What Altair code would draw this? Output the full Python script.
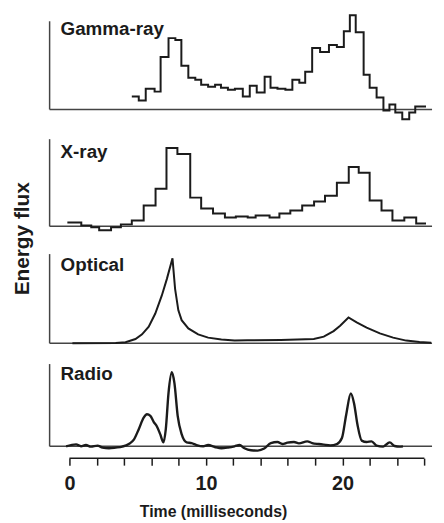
import altair as alt
import pandas as pd

# ---------------- data ----------------
x_min, x_max = -1.45, 26.56
tick_values = [0, 2, 4, 6, 8, 10, 12, 14, 16, 18, 20, 22, 24, 26]
ruler_start, ruler_end = 0, 26

panel_names = ["Gamma-ray", "X-ray", "Optical", "Radio"]

gamma_t = [4.57, 5.08, 5.59, 6.24, 6.68, 7.26, 7.76, 8.20, 8.71, 9.22, 9.65, 10.16, 10.67,
           11.10, 11.61, 12.12, 12.70, 13.21, 13.72, 14.30, 14.73, 15.24, 15.82, 16.33, 16.84,
           17.27, 17.78, 18.36, 19.01, 19.59, 20.10, 20.54, 20.97, 21.55, 21.99, 22.50, 23.00,
           23.44, 23.87, 24.38, 24.89, 25.33, 25.83, 26.12]
gamma_v = [13, 9, 21, 18, 53, 72, 70, 44, 32, 30, 25, 23, 25, 22, 20, 21, 13, 24, 17, 33, 22,
           21, 20, 30, 27, 38, 62, 58, 65, 63, 79, 95, 78, 35, 22, 12, -1, 5, -3, -10, -3, 3, 3, 3]

xray_t = [-0.15, 0.87, 1.60, 2.18, 3.05, 3.77, 4.57, 5.44, 6.31, 7.11, 7.91, 8.85, 9.65, 10.52,
          11.39, 12.19, 13.06, 13.64, 14.66, 15.38, 16.18, 17.05, 17.92, 18.72, 19.59, 20.46,
          21.19, 21.99, 22.86, 23.66, 24.53, 25.40, 26.12]
xray_v = [4, 1, -1, -4, -1, 2, 6, 21, 38, 79, 73, 29, 18, 13, 9, 10, 9, 11, 9, 13, 16, 21, 25,
          31, 44, 60, 54, 26, 16, 6, 9, 3, 3]

optical_t = [0.22, 3.39, 4.11, 4.84, 5.32, 5.81, 6.29, 6.77, 7.14, 7.55, 7.74, 7.98, 8.22, 8.71,
             9.43, 10.16, 11.13, 12.10, 13.06, 15.48, 17.90, 18.63, 19.35, 19.83, 20.44, 21.04,
             21.77, 22.74, 23.71, 24.67, 25.64, 26.50]
optical_v = [0, 0.3, 1, 4.3, 9, 16.7, 30, 48.3, 65, 85.7, 55, 33.3, 23.3, 15, 9, 5.7, 3.7, 2.7,
             3, 3.3, 4.3, 6.7, 12.3, 17.7, 26, 21, 15.7, 10, 5.7, 2.7, 1.3, 0.5]

radio_t = [-0.24, 0.49, 0.85, 1.21, 1.57, 2.06, 2.42, 2.90, 3.39, 3.87, 4.35, 4.72, 5.08, 5.44,
           5.68, 5.93, 6.17, 6.41, 6.65, 6.89, 7.06, 7.26, 7.50, 7.69, 7.93, 8.22, 8.59, 8.95,
           9.31, 9.80, 10.16, 10.65, 11.13, 11.61, 12.10, 12.46, 12.82, 13.30, 13.79, 14.27,
           14.75, 15.24, 15.60, 15.97, 16.45, 16.81, 17.42, 17.78, 18.27, 18.63, 19.11, 19.59,
           19.96, 20.27, 20.61, 20.85, 21.10, 21.41, 21.77, 22.13, 22.50, 22.98, 23.46, 23.82,
           24.19, 24.43]
radio_v = [0, 2, 0, 1.3, -0.3, 0.7, -1.3, -2, -1.3, -0.3, 2.3, 6.7, 17.3, 29, 32.3, 30.7, 24.7,
           20, 12.3, 4, 17.3, 54, 74.7, 64, 30.7, 12.3, 4, 3.3, 1.3, 0, 1.3, -0.7, -2, -1.3, 0,
           1.3, -2, -4, -4.3, -2.3, 3.3, 4.3, 2.3, 3.7, 4.3, 3, 5, 3.3, 2.3, 1.7, 1, 2.3, 8.3,
           31.7, 53.3, 43.3, 21.7, 5.7, 4.3, 5, 0.7, -0.3, 4, 0.3, -0.3, 0]

# --------------- styling ---------------
INK = "#1b1b1b"
LINE_GREY = "#444444"
FONT = "Liberation Sans"
W = 386


def panel(name, t, v, interp, height, axis_top, label_y, stroke_w, bottom=False):
    df = pd.DataFrame({"t": t, "v": v})
    one = pd.DataFrame({"name": [name], "zero": [0], "top": [axis_top]})
    xscale = alt.Scale(domain=[x_min, x_max], nice=False, zero=False)
    yscale = alt.Scale(domain=[0, height], nice=False, zero=False)
    if bottom:
        xaxis = alt.Axis(
            values=tick_values,
            labelExpr="datum.value % 10 == 0 ? datum.label : ''",
            domain=False, offset=12, tickSize=7, tickWidth=1.5, tickColor=INK,
            grid=False, labelFontSize=20, labelFontWeight="bold", labelFont=FONT,
            labelColor=INK, labelPadding=9, labelFlush=False,
            title="Time (milliseconds)", titleFontSize=16, titleFontWeight="bold",
            titleFont=FONT, titleColor=INK, titlePadding=10, titleX=165,
            titleAlign="center",
        )
    else:
        xaxis = None

    line = alt.Chart(df).mark_line(
        interpolate=interp, color=INK, strokeWidth=stroke_w, clip=False
    ).encode(
        x=alt.X("t:Q", scale=xscale, axis=xaxis,
                title="Time (milliseconds)" if bottom else None),
        y=alt.Y("v:Q", scale=yscale, axis=None),
    )
    base = alt.Chart(one).mark_rule(color=LINE_GREY, strokeWidth=1.5).encode(
        y=alt.Y("zero:Q", scale=yscale, axis=None)
    )
    vline = alt.Chart(one).mark_rule(color=LINE_GREY, strokeWidth=1.5).encode(
        x=alt.value(0),
        y=alt.Y("zero:Q", scale=yscale, axis=None),
        y2="top:Q",
    )
    label = alt.Chart(one).mark_text(
        align="left", baseline="alphabetic", fontSize=19, fontWeight="bold",
        font=FONT, color=INK,
    ).encode(x=alt.value(11), y=alt.value(label_y), text="name:N")
    layers = [base, vline, line, label]
    if bottom:
        ruler_df = pd.DataFrame({"a": [ruler_start], "b": [ruler_end]})
        ruler = alt.Chart(ruler_df).mark_rule(color=INK, strokeWidth=1.5).encode(
            x=alt.X("a:Q", scale=xscale, axis=xaxis, title="Time (milliseconds)"),
            x2="b:Q",
            y=alt.value(height + 12),
        )
        layers.append(ruler)
    return alt.layer(*layers).properties(width=W, height=height)


g = panel(panel_names[0], gamma_t, gamma_v, "step-after", 89, 89, 13.7, 2)
x = panel(panel_names[1], xray_t, xray_v, "step-after", 97, 88, 27.7, 2)
o = panel(panel_names[2], optical_t, optical_v, "linear", 97, 90, 23.7, 2)
r = panel(panel_names[3], radio_t, radio_v, "monotone", 83, 83, 16.3, 2.4, bottom=True)

chart = alt.vconcat(
    g, x, o, r, spacing=21, bounds="flush",
    title=alt.TitleParams(
        text="Energy flux", orient="left", anchor="middle", fontSize=21,
        fontWeight="bold", font=FONT, color=INK, offset=18, dx=27, dy=2,
    ),
).properties(
    padding={"left": 4, "top": 1, "right": 0, "bottom": 0},
    background="white",
).configure_view(stroke=None)

chart.save("out.html", embed_options={"renderer": "svg", "actions": False})
